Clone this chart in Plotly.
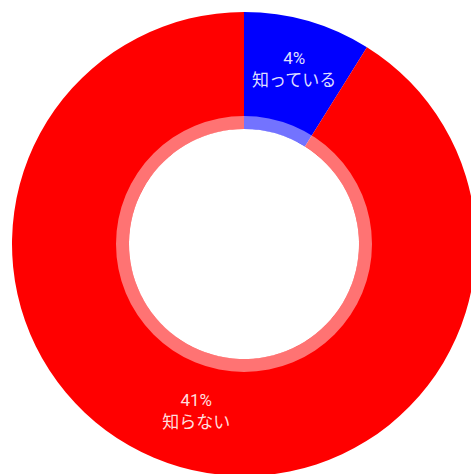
import plotly.graph_objects as go

# Survey answers and their shares
labels = ["知っている", "知らない"]
values = [4, 41]
colors = ["#0000FF", "#FF0000"]
pct_text = ["4%", "41%"]

W, H = 488, 488
PAD = 12
R_OUT = 232          # outer radius of the donut, px
R_RING = 128         # outer radius of the pale inner ring, px
R_HOLE = 115         # radius of the white centre, px

side = W - 2 * PAD
ring_half = R_RING / side

texts = [f"{p}<br>{l}" for p, l in zip(pct_text, labels)]

fig = go.Figure()
fig.add_trace(go.Pie(
    labels=labels,
    values=values,
    text=texts,
    textinfo="text",
    textposition="inside",
    insidetextorientation="horizontal",
    sort=False,
    direction="clockwise",
    rotation=0,
    hole=R_HOLE / R_OUT,
    marker=dict(colors=colors, line=dict(width=0)),
    textfont=dict(family="Roboto, Noto Sans CJK JP", size=17, color="rgba(255,255,255,0.88)"),
    showlegend=False,
    domain=dict(x=[0, 1], y=[0, 1]),
))

# Translucent white band around the hole
fig.add_trace(go.Pie(
    values=[1],
    marker=dict(colors=["rgba(255,255,255,0.45)"], line=dict(width=0)),
    hole=R_HOLE / R_RING,
    textinfo="none",
    hoverinfo="skip",
    sort=False,
    showlegend=False,
    domain=dict(x=[0.5 - ring_half, 0.5 + ring_half], y=[0.5 - ring_half, 0.5 + ring_half]),
))

fig.update_layout(
    width=W,
    height=H,
    autosize=False,
    margin=dict(l=PAD, r=PAD, t=PAD, b=PAD),
    paper_bgcolor="white",
    plot_bgcolor="white",
)

fig.write_html(
    "out.html",
    post_script="document.body.style.margin='0';document.body.style.overflow='hidden';",
)
